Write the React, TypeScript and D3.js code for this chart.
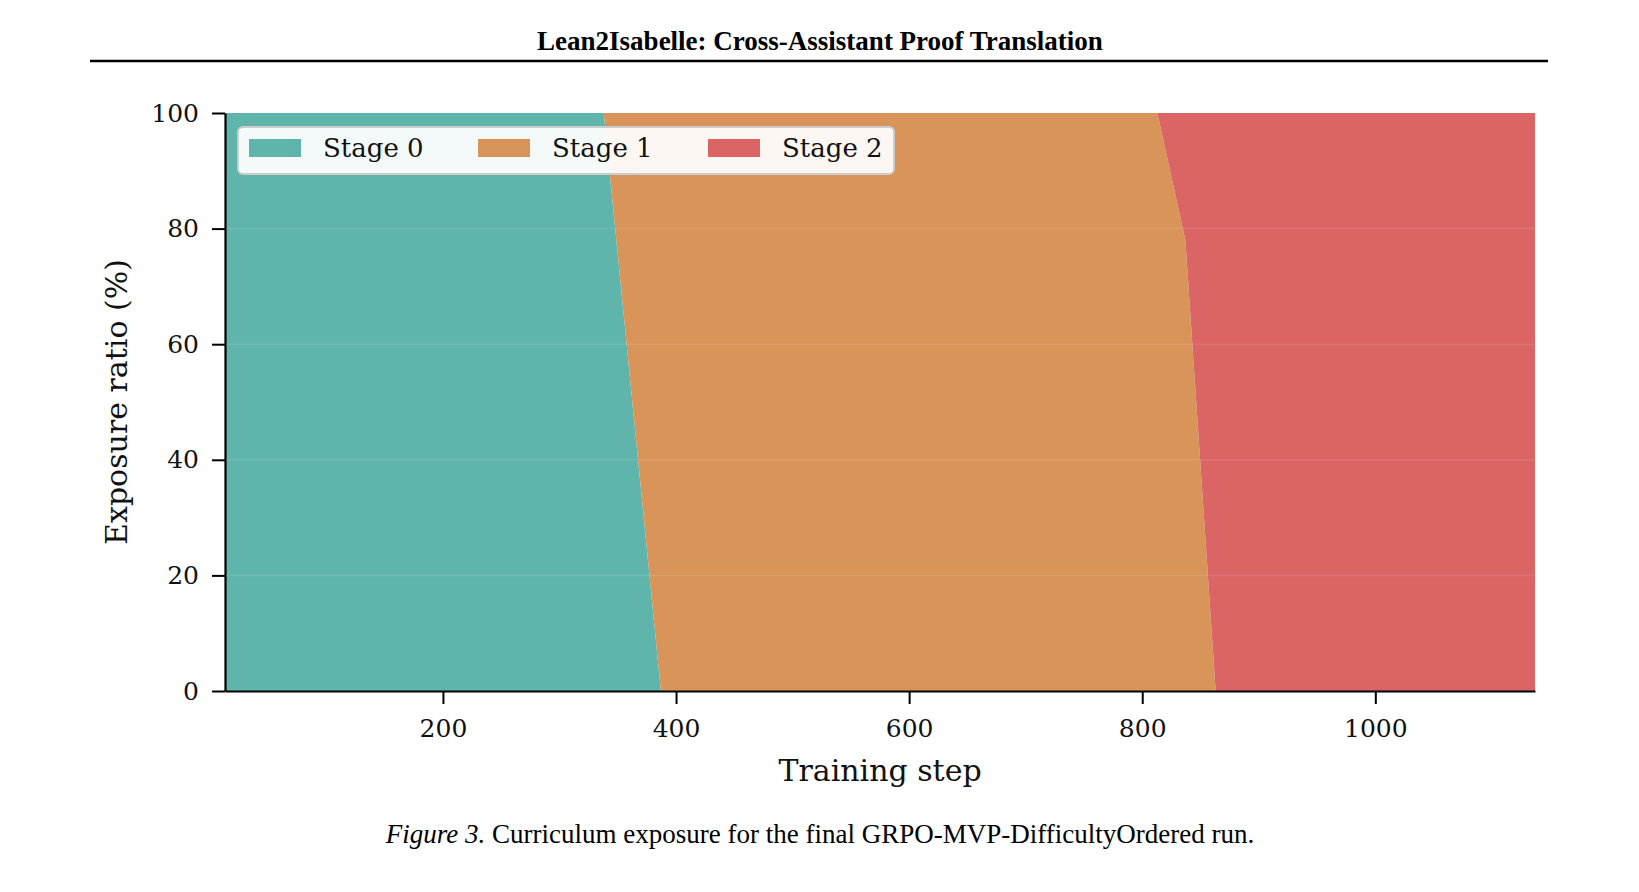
import React, { useEffect, useRef } from 'react';
import * as d3 from 'd3';

const steps = [13, 338, 387, 813, 837, 863, 1137];
const stage0 = [100, 100, 0, 0, 0, 0, 0];
const stage1 = [0, 0, 100, 100, 78, 0, 0];
const stage2 = [0, 0, 0, 0, 22, 100, 100];

const stageNames = ['Stage 0', 'Stage 1', 'Stage 2'];
const stageColors = ['#5fb5ab', '#d99459', '#db6465'];
const xTicks = [200, 400, 600, 800, 1000];
const yTicks = [0, 20, 40, 60, 80, 100];

const W = 1639;
const H = 892;
const SERIF = "'DejaVu Serif', serif";
const TIMES = "'Liberation Serif', 'Times New Roman', serif";

const App = () => {
  const svgRef = useRef<SVGSVGElement>(null);

  useEffect(() => {
    drawChart(svgRef);
  }, [svgRef]);

  return (
    <div style={{ position: 'absolute', left: 0, top: 0, background: '#fff' }}>
      <svg ref={svgRef} width={W} height={H}></svg>
    </div>
  );
};

function drawChart(svgRef: React.RefObject<SVGSVGElement>) {
  const left = 225,
    right = 1535,
    top = 113,
    bottom = 691;

  const svg = d3.select(svgRef.current);
  svg.selectAll('*').remove();

  // header
  svg
    .append('text')
    .attr('x', 820)
    .attr('y', 50)
    .attr('text-anchor', 'middle')
    .style('font-family', TIMES)
    .style('font-weight', 'bold')
    .style('font-size', '27px')
    .text('Lean2Isabelle: Cross-Assistant Proof Translation');
  svg
    .append('line')
    .attr('x1', 90)
    .attr('x2', 1548)
    .attr('y1', 61)
    .attr('y2', 61)
    .attr('stroke', '#000')
    .attr('stroke-width', 2.5);

  const x = d3.scaleLinear().domain([steps[0], steps[steps.length - 1]]).range([left, right]);
  const y = d3.scaleLinear().domain([0, 100]).range([bottom, top]);

  const rows = steps.map((s, i) => ({ step: s, s0: stage0[i], s1: stage1[i], s2: stage2[i] }));
  const stacked = d3.stack<any>().keys(['s0', 's1', 's2'])(rows);

  const area = d3
    .area<any>()
    .x((d) => x(d.data.step))
    .y0((d) => y(d[0]))
    .y1((d) => y(d[1]));

  svg
    .append('g')
    .selectAll('path')
    .data(stacked)
    .join('path')
    .attr('fill', (_, i) => stageColors[i])
    .attr('d', area as any);

  // faint grid
  svg
    .append('g')
    .selectAll('line')
    .data(yTicks.slice(1, -1))
    .join('line')
    .attr('x1', left)
    .attr('x2', right)
    .attr('y1', (d) => y(d))
    .attr('y2', (d) => y(d))
    .attr('stroke', '#ffffff')
    .attr('stroke-opacity', 0.1)
    .attr('stroke-width', 1.5);

  // axes
  const xAxis = svg
    .append('g')
    .attr('transform', 'translate(0,' + bottom + ')')
    .call(
      d3
        .axisBottom(x)
        .tickValues(xTicks)
        .tickFormat(d3.format('d'))
        .tickSize(13)
        .tickPadding(15)
        .tickSizeOuter(0)
    );
  xAxis.select('.domain').attr('stroke-width', 2.2);
  xAxis.selectAll('.tick line').attr('stroke-width', 2);
  xAxis.selectAll('text').style('font-family', SERIF).style('font-size', '25px').attr('fill', '#111');

  const yAxis = svg
    .append('g')
    .attr('transform', 'translate(' + left + ',0)')
    .call(d3.axisLeft(y).tickValues(yTicks).tickSize(13).tickPadding(13).tickSizeOuter(0));
  yAxis.select('.domain').attr('stroke-width', 2.2);
  yAxis.selectAll('.tick line').attr('stroke-width', 2);
  yAxis.selectAll('text').style('font-family', SERIF).style('font-size', '25px').attr('fill', '#111');

  svg
    .append('text')
    .attr('x', (left + right) / 2)
    .attr('y', 781)
    .attr('text-anchor', 'middle')
    .style('font-family', SERIF)
    .style('font-size', '30px')
    .attr('fill', '#111')
    .text('Training step');

  svg
    .append('text')
    .attr('transform', 'translate(127,' + (top + bottom) / 2 + ') rotate(-90)')
    .attr('text-anchor', 'middle')
    .style('font-family', SERIF)
    .style('font-size', '30px')
    .attr('fill', '#111')
    .text('Exposure ratio (%)');

  // legend
  const lg = svg.append('g');
  lg.append('rect')
    .attr('x', 238)
    .attr('y', 127)
    .attr('width', 656)
    .attr('height', 47)
    .attr('rx', 5)
    .attr('fill', '#fff')
    .attr('fill-opacity', 0.93)
    .attr('stroke', '#cccccc')
    .attr('stroke-width', 2);
  const itemX = [249, 478, 708];
  stageNames.forEach((name, i) => {
    lg.append('rect')
      .attr('x', itemX[i])
      .attr('y', 139)
      .attr('width', 52)
      .attr('height', 18)
      .attr('fill', stageColors[i]);
    lg.append('text')
      .attr('x', itemX[i] + 74)
      .attr('y', 157)
      .style('font-family', SERIF)
      .style('font-size', '26px')
      .attr('fill', '#111')
      .text(name);
  });

  // caption
  const cap = svg
    .append('text')
    .attr('x', 820)
    .attr('y', 843)
    .attr('text-anchor', 'middle')
    .style('font-family', TIMES)
    .style('font-size', '27px');
  cap.append('tspan').style('font-style', 'italic').text('Figure 3.');
  cap.append('tspan').text(' Curriculum exposure for the final GRPO-MVP-DifficultyOrdered run.');
}

export default App;
